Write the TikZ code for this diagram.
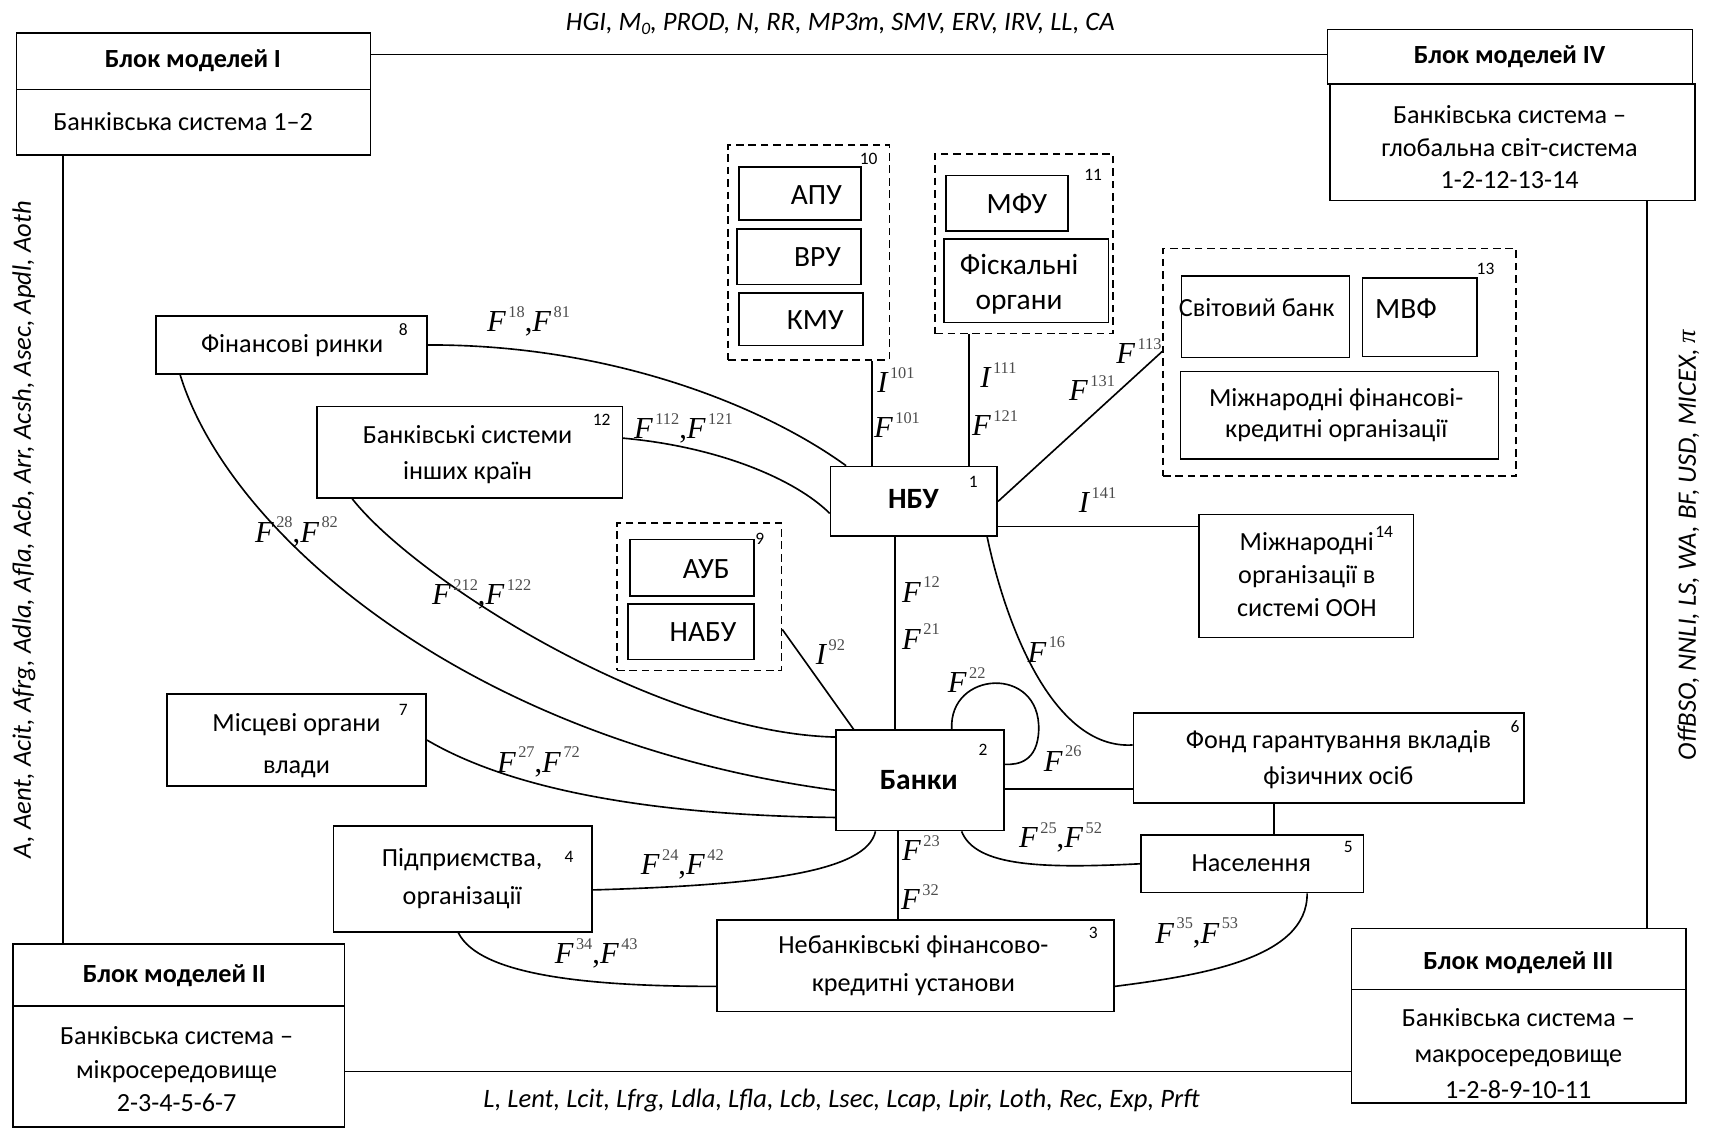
\documentclass[tikz,border=0pt]{standalone}
\usepackage{fontspec}
\setmainfont{Carlito}
\newfontfamily\tms{Liberation Serif}
\usetikzlibrary{fit,calc}
\newcommand{\sym}[2]{{\tms\fontsize{14}{14}\selectfont\itshape #1}\kern1.2pt{\tms\fontsize{7.5}{7.5}\selectfont\color{black!70}\raisebox{6.5pt}{#2}}}
\newcommand{\cmm}{{\tms\fontsize{14}{14}\selectfont ,}}
\tikzset{
  bx/.style={draw, line width=0.75pt, inner sep=0pt, fit={#1}},
  dbx/.style={draw, line width=0.75pt, inner sep=0pt, dash pattern=on 3.5pt off 2.2pt, fit={#1}},
  ln/.style={line width=0.75pt},
  txt/.style={inner sep=0pt, align=center, font=\fontsize{12}{15}\selectfont},
  big/.style={inner sep=0pt, align=center, font=\fontsize{13.5}{16}\selectfont},
  ttl/.style={inner sep=0pt, align=center, font=\bfseries\fontsize{12}{15}\selectfont},
  num/.style={inner sep=0pt, font=\fontsize{8}{8}\selectfont},
  lbl/.style={inner sep=0pt},
  vars/.style={inner sep=0pt, font=\itshape\fontsize{12.2}{14}\selectfont},
}
\begin{document}
\begin{tikzpicture}[x=0.5pt,y=-0.5pt]
\useasboundingbox (0,0) rectangle (1568,1035);
% ---------- model blocks
\node[bx={(15,30) (340,82)}] (b1t) {};
\node[bx={(15,82) (340,142)}] (b1b) {};
\node[ttl] (b1tt) at (177,56) {Блок моделей I};
\node[txt] (b1bt) at (168,112) {Банківська система 1–2};

\node[bx={(1218,27) (1553,77)}] (b4t) {};
\node[bx={(1220,77) (1555,184)}] (b4b) {};
\node[ttl] (b4tt) at (1385,52) {Блок моделей IV};
\node[txt] (b4bt) at (1385,135) {Банківська система –\\глобальна світ-система\\1-2-12-13-14};

\node[bx={(12,866) (316,923)}] (b2t) {};
\node[bx={(12,923) (316,1034)}] (b2b) {};
\node[ttl] (b2tt) at (160,895) {Блок моделей II};
\node[txt, font=\fontsize{12}{15.5}\selectfont] (b2bt) at (162,981) {Банківська система –\\мікросередовище\\2-3-4-5-6-7};

\node[bx={(1240,852) (1547,908)}] (b3t) {};
\node[bx={(1240,908) (1547,1012)}] (b3b) {};
\node[ttl] (b3tt) at (1393,883) {Блок моделей III};
\node[txt, font=\fontsize{12}{16.5}\selectfont] (b3bt) at (1393,967) {Банківська система –\\макросередовище\\1-2-8-9-10-11};

% frame lines and variable lists
\coordinate (tly) at (0,50);
\coordinate (bly) at (0,983);
\coordinate (lvx) at (58,0);
\coordinate (rvx) at (1511,0);
\draw[ln] (b1t.east |- tly) -- (b4t.west |- tly);
\draw[ln] (b2b.east |- bly) -- (b3b.west |- bly);
\draw[ln] (lvx |- b1b.south) -- (lvx |- b2t.north);
\draw[ln] (rvx |- b4b.south) -- (rvx |- b3t.north);
\node[vars] (vtop) at (771,22) {HGI, M\raisebox{-2pt}{\fontsize{8}{8}\selectfont 0}, PROD, N, RR, MP3m, SMV, ERV, IRV, LL, CA};
\node[vars] (vbot) at (772,1010) {L, Lent, Lcit, Lfrg, Ldla, Lfla, Lcb, Lsec, Lcap, Lpir, Loth, Rec, Exp, Prft};
\node[vars, rotate=90] (vleft) at (22,486) {A, Aent, Acit, Afrg, Adla, Afla, Acb, Arr, Acsh, Asec, Apdl, Aoth};
\node[vars, rotate=90] (vright) at (1549,500) {OffBSO, NNLI, LS, WA, BF, USD, MICEX, {\tms\itshape π}};

% ---------- group 10
\node[dbx={(668,133) (816,330)}] (d10) {};
\node[bx={(678,153) (790,202)}] (apu) {};
\node[bx={(676,210) (790,261)}] (vru) {};
\node[bx={(678,269) (792,317)}] (kmu) {};
\node[big] at (749,179) {АПУ};
\node[big] at (750,236) {ВРУ};
\node[big] at (748,294) {КМУ};
\node[num] at (797,146) {10};
% ---------- group 11
\node[dbx={(858,141) (1021,306)}] (d11) {};
\node[bx={(868,161) (980,212)}] (mfu) {};
\node[bx={(866,219) (1017,296)}] (fisk) {};
\node[big] at (933,187) {МФУ};
\node[big] at (935,261) {Фіскальні\\органи};
\node[num] at (1003,160) {11};
% ---------- group 13
\node[dbx={(1067,228) (1391,437)}] (d13) {};
\node[bx={(1084,253) (1238,328)}] (wb) {};
\node[bx={(1250,255) (1355,327)}] (imf) {};
\node[bx={(1083,341) (1375,421)}] (ifo) {};
\node[txt] at (1153,282) {Світовий банк};
\node[big] at (1290,283) {МВФ};
\node[txt, font=\fontsize{12}{14}\selectfont] at (1226,381) {Міжнародні фінансові-\\кредитні організації};
\node[num] at (1363,247) {13};
% ---------- box 14
\node[bx={(1100,472) (1297,585)}] (un) {};
\node[txt] at (1199,527) {Міжнародні\\організації в\\системі ООН};
\node[num] at (1270,488) {14};
% ---------- central
\node[bx={(762,428) (915,492)}] (nbu) {};
\node[ttl, font=\bfseries\fontsize{13.5}{15}\selectfont] at (838,458) {НБУ};
\node[num] at (893,442) {1};
\node[bx={(767,670) (921,762)}] (bank) {};
\node[ttl, font=\bfseries\fontsize{13.5}{15}\selectfont] at (843,716) {Банки};
\node[num] at (902,688) {2};
% ---------- left side
\node[bx={(143,290) (392,343)}] (fr) {};
\node[txt] at (268,317) {Фінансові ринки};
\node[num] at (370,302) {8};
\node[bx={(291,373) (571,457)}] (bso) {};
\node[txt, font=\fontsize{12}{16.5}\selectfont] at (429,417) {Банківські системи\\інших країн};
\node[num] at (552,385) {12};
\node[dbx={(566,480) (717,615)}] (d9) {};
\node[bx={(578,495) (692,547)}] (aub) {};
\node[bx={(576,554) (692,605)}] (nabu) {};
\node[big] at (648,522) {АУБ};
\node[big] at (645,580) {НАБУ};
\node[num] at (697,494) {9};
\node[bx={(153,637) (391,721)}] (mov) {};
\node[txt, font=\fontsize{12}{19.5}\selectfont] at (272,684) {Місцеві органи\\влади};
\node[num] at (370,651) {7};
\node[bx={(306,758) (543,855)}] (pid) {};
\node[txt, font=\fontsize{12}{17.5}\selectfont] at (424,806) {Підприємства,\\організації};
\node[num] at (522,786) {4};
% ---------- right / bottom side
\node[bx={(1040,654) (1398,737)}] (fond) {};
\node[txt, font=\fontsize{12}{16.5}\selectfont] at (1228,697) {Фонд гарантування вкладів\\фізичних осіб};
\node[num] at (1390,667) {6};
\node[bx={(1047,766) (1251,819)}] (nas) {};
\node[txt] at (1148,792) {Населення};
\node[num] at (1237,777) {5};
\node[bx={(658,844) (1022,928)}] (neb) {};
\node[txt, font=\fontsize{12}{17.5}\selectfont] at (838,886) {Небанківські фінансово-\\кредитні установи};
\node[num] at (1003,856) {3};

% ---------- connectors
\coordinate (x800) at (800,0);
\coordinate (x889) at (889,0);
\coordinate (x821) at (821,0);
\coordinate (x824) at (824,0);
\coordinate (x1169) at (1169,0);
\coordinate (y483) at (0,483);
\coordinate (y724) at (0,724);
\draw[ln] (d10.south -| x800) -- (nbu.north -| x800);
\draw[ln] (d11.south -| x889) -- (nbu.north -| x889);
\draw[ln] (nbu.east) -- ($(d13.west)+(0,-10)$);
\draw[ln] (nbu.east |- y483) -- (un.west |- y483);
\draw[ln] (nbu.south -| x821) -- (bank.north -| x821);
\draw[ln] (bank.south -| x824) -- (neb.north -| x824);
\draw[ln] (bank.east |- y724) -- (fond.west |- y724);
\draw[ln] (fond.south -| x1169) -- (nas.north -| x1169);
% curves
\draw[ln] (fr.east) .. controls (560,316) and (700,372) .. ($(nbu.north west)+(15,0)$);
\draw[ln] ($(bso.east)+(0,-13)$) .. controls (660,410) and (730,440) .. ($(nbu.west)+(0,11)$);
\draw[ln] ($(fr.south west)+(23,0)$) .. controls (210,490) and (430,680) .. ($(bank.west)+(0,9)$);
\draw[ln] ($(bso.south west)+(33,0)$) .. controls (380,530) and (600,672) .. ($(bank.north west)+(0,7)$);
\draw[ln] (mov.east) .. controls (470,725) and (600,748) .. ($(bank.west)+(0,34)$);
\draw[ln] ($(d9.east)+(0,30)$) -- ($(bank.north west)+(17,0)$);
\draw[ln] ($(nbu.south east)+(-10,0)$) .. controls (922,570) and (965,688) .. ($(fond.west)+(0,-12)$);
\draw[ln] ($(bank.north west)+(107,0)$) .. controls (870,615) and (955,610) .. (953,670) .. controls (952,698) and (935,702) .. ($(bank.north east)+(0,32)$);
\draw[ln] ($(bank.south west)+(116,0)$) .. controls (895,795) and (955,797) .. (nas.west);
\draw[ln] ($(bank.south west)+(37,0)$) .. controls (795,800) and (700,812) .. ($(pid.east)+(0,10)$);
\draw[ln] ($(pid.south)+(-4,0)$) .. controls (440,895) and (540,905) .. ($(neb.west)+(0,19)$);
\draw[ln] ($(nas.south west)+(153,0)$) .. controls (1200,880) and (1100,895) .. ($(neb.east)+(0,19)$);

% ---------- flow labels
\node[lbl] at (822,349) {\sym{I}{101}};
\node[lbl] at (823,390) {\sym{F}{101}};
\node[lbl] at (916,344) {\sym{I}{111}};
\node[lbl] at (913,388) {\sym{F}{121}};
\node[lbl] at (1045,322) {\sym{F}{113}};
\node[lbl] at (1002,356) {\sym{F}{131}};
\node[lbl] at (1007,459) {\sym{I}{141}};
\node[lbl] at (485,295) {\sym{F}{18}\cmm\sym{F}{81}};
\node[lbl] at (627,393) {\sym{F}{112}\cmm\sym{F}{121}};
\node[lbl] at (272,488) {\sym{F}{28}\cmm\sym{F}{82}};
\node[lbl] at (442,545) {\sym{F}{212}\cmm\sym{F}{122}};
\node[lbl] at (494,699) {\sym{F}{27}\cmm\sym{F}{72}};
\node[lbl] at (626,793) {\sym{F}{24}\cmm\sym{F}{42}};
\node[lbl] at (547,875) {\sym{F}{34}\cmm\sym{F}{43}};
\node[lbl] at (1098,856) {\sym{F}{35}\cmm\sym{F}{53}};
\node[lbl] at (973,768) {\sym{F}{25}\cmm\sym{F}{52}};
\node[lbl] at (845,778) {\sym{F}{23}};
\node[lbl] at (844,823) {\sym{F}{32}};
\node[lbl] at (845,541) {\sym{F}{12}};
\node[lbl] at (845,584) {\sym{F}{21}};
\node[lbl] at (887,624) {\sym{F}{22}};
\node[lbl] at (975,696) {\sym{F}{26}};
\node[lbl] at (960,596) {\sym{F}{16}};
\node[lbl] at (762,598) {\sym{I}{92}};
\end{tikzpicture}
\end{document}
